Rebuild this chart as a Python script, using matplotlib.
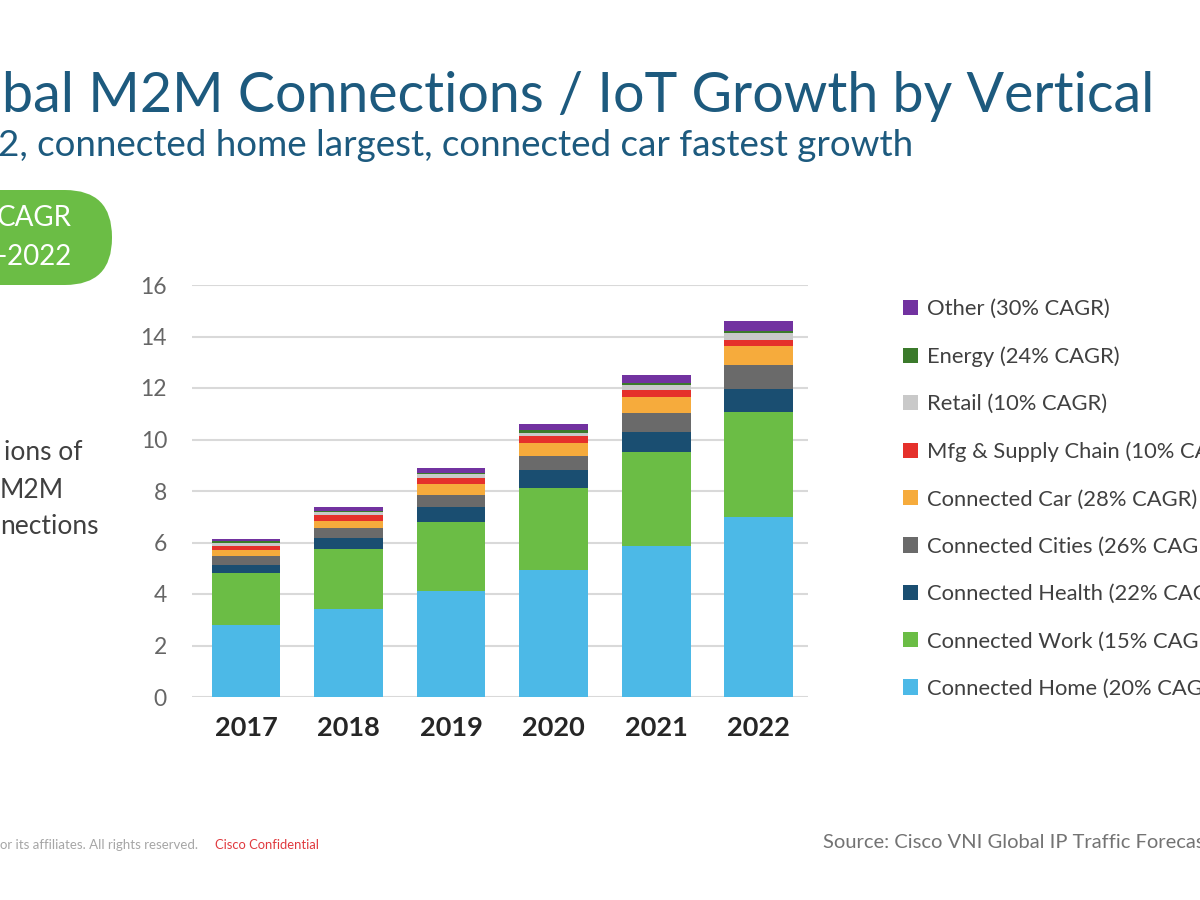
import matplotlib.pyplot as plt
from matplotlib.patches import FancyBboxPatch
from matplotlib.patches import Patch

plt.rcParams['font.family'] = ['Lato', 'DejaVu Sans']

years = ['2017', '2018', '2019', '2020', '2021', '2022']

# billions of connections (bottom to top)
home = [2.81, 3.42, 4.10, 4.94, 5.87, 6.98]
work = [2.00, 2.32, 2.71, 3.16, 3.63, 4.07]
health = [0.33, 0.43, 0.58, 0.71, 0.80, 0.90]
cities = [0.32, 0.38, 0.46, 0.56, 0.71, 0.93]
car = [0.23, 0.30, 0.41, 0.51, 0.64, 0.75]
mfg = [0.18, 0.22, 0.26, 0.25, 0.29, 0.25]
retail = [0.13, 0.13, 0.14, 0.14, 0.16, 0.25]
energy = [0.04, 0.04, 0.05, 0.09, 0.09, 0.10]
other = [0.11, 0.15, 0.17, 0.23, 0.30, 0.36]

series = [home, work, health, cities, car, mfg, retail, energy, other]
labels = ['Connected Home (20% CAGR)', 'Connected Work (15% CAGR)',
          'Connected Health (22% CAGR)', 'Connected Cities (26% CAGR)',
          'Connected Car (28% CAGR)', 'Mfg & Supply Chain (10% CAGR)',
          'Retail (10% CAGR)', 'Energy (24% CAGR)', 'Other (30% CAGR)']
colors = ['#4cb9e7', '#6bbd45', '#1a4e71', '#6a6a6a', '#f6ab3c',
          '#e5302b', '#c9c9c9', '#3b7a2b', '#7232a0']

fig = plt.figure(figsize=(12, 9), dpi=100)

# overlay in pixel units for the slide decoration
bg = fig.add_axes([0, 0, 1, 1])
bg.set_xlim(0, 1200)
bg.set_ylim(900, 0)
bg.axis('off')

bg.text(2, 97, 'bal M2M Connections / IoT Growth by Vertical', fontsize=40,
        color='#1d5a7e', va='center', ha='left')
bg.text(-2, 146, '2, connected home largest, connected car fastest growth', fontsize=26.5,
        color='#1d5a7e', va='center', ha='left')

pill = FancyBboxPatch((-100, 190), 212, 95, boxstyle='round,pad=0,rounding_size=47',
                      facecolor='#6bbd45', edgecolor='none')
bg.add_patch(pill)
bg.text(72, 218, 'CAGR', fontsize=20, color='white', ha='right', va='center')
bg.text(72, 257, '\u20132022', fontsize=20, color='white', ha='right', va='center')

bg.text(4, 452, 'ions of', fontsize=19, color='#404040', ha='left', va='center')
bg.text(0, 490, 'M2M', fontsize=19, color='#404040', ha='left', va='center')
bg.text(0, 527, 'nections', fontsize=19, color='#404040', ha='left', va='center')

bg.text(0, 845, 'or its affiliates. All rights reserved.', fontsize=9.5, color='#a6a6a6',
        ha='left', va='center')
bg.text(215, 845, 'Cisco Confidential', fontsize=9.4, color='#e0393e', ha='left', va='center')
bg.text(823, 843, 'Source: Cisco VNI Global IP Traffic Forecast', fontsize=14.5,
        color='#737373', ha='left', va='center')

ax = fig.add_axes([192 / 1200, 1 - 697 / 900, 616 / 1200, 412 / 900])
x = range(len(years))
bottom = [0] * len(years)
for vals, lab, col in zip(series, labels, colors):
    ax.bar(x, vals, 0.67, bottom=bottom, color=col, label=lab, zorder=3)
    bottom = [b + v for b, v in zip(bottom, vals)]

ax.set_ylim(0, 16)
ax.set_xlim(-0.527, 5.48)
ax.set_yticks(range(0, 17, 2))
ax.set_xticks(list(x))
ax.set_xticklabels(years, fontsize=19.5, fontweight='bold', color='#262626')
ax.tick_params(axis='y', length=0, pad=18, labelsize=16.5, labelcolor='#666666')
ax.tick_params(axis='x', length=0, pad=14)
ax.grid(axis='y', color='#d9d9d9', linewidth=1.5, zorder=0)
for s in ax.spines.values():
    s.set_visible(False)
ax.set_facecolor('none')

handles = [Patch(facecolor=c, edgecolor='none') for c in colors]
fig.legend(handles[::-1], labels[::-1], loc='upper left',
           bbox_to_anchor=(903 / 1200, 1 - 299 / 900), frameon=False,
           fontsize=15.8, handlelength=0.7, handleheight=0.7, handletextpad=0.4,
           labelspacing=1.245, borderpad=0, borderaxespad=0, labelcolor='#404040')

fig.savefig('out.png', dpi=100)
